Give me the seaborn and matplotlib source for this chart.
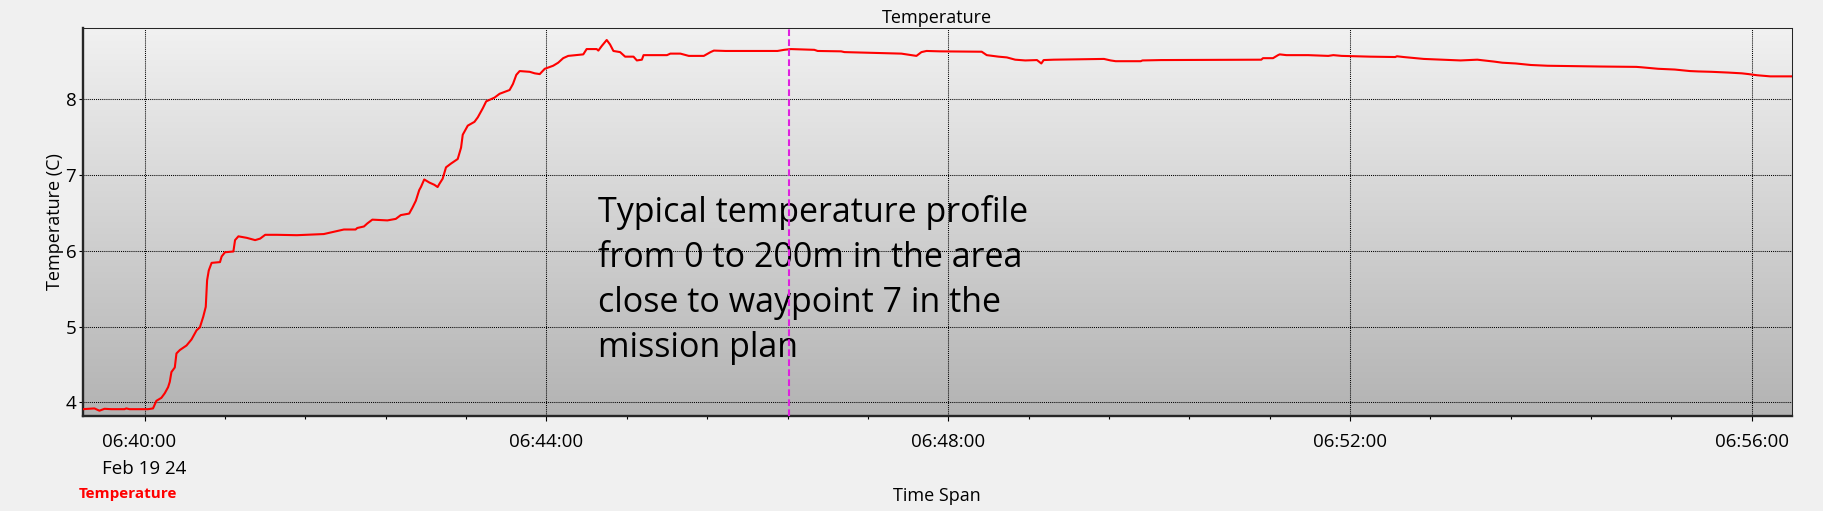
import numpy as np
import pandas as pd
import matplotlib
matplotlib.use("Agg")
import matplotlib.pyplot as plt
import matplotlib.dates as mdates
from matplotlib.colors import LinearSegmentedColormap
import seaborn as sns

# seconds after 06:40:00 and temperature (C)
start = pd.Timestamp("2024-02-19 06:40:00")
seconds = [-37, -30, -27, -24, -20, -12, -11, -9, 2, 5, 7, 10, 12, 14, 15, 16, 18, 19,
           21, 25, 28, 31, 33, 35, 36.5, 37.3, 38.3, 40, 45, 46, 48, 53, 54, 56, 61, 66,
           69, 72, 79, 91, 107, 115, 119, 126, 127, 131, 133, 136, 145, 150, 153, 158,
           160, 162, 164, 165, 167, 170, 173, 175, 176, 178, 180, 183, 187, 189, 190,
           193, 197, 199, 202, 204, 209, 212, 218, 220, 222, 224, 230, 233, 236, 239,
           244, 247, 250, 253, 262, 264, 270, 271, 273, 276, 278, 280, 284, 287, 292,
           294, 297, 298, 312, 314, 320, 325, 334, 338, 340, 347, 378, 382, 386, 400,
           402, 416, 418, 436, 452, 461, 464, 467, 475, 500, 503, 510, 515, 520, 526,
           533, 535.6, 537, 543, 573, 577, 580, 595, 596, 607, 667, 668, 674, 677, 678,
           682, 695, 707, 710, 715, 732, 747, 748, 752, 764, 775, 786, 796, 800, 806,
           811, 819, 828, 838, 869, 891, 894, 899, 904, 914, 923, 928, 936, 946, 954,
           958, 963, 971, 984]
temperature = [3.91, 3.92, 3.89, 3.915, 3.91, 3.91, 3.92, 3.91, 3.91, 3.92, 4.02, 4.06,
               4.12, 4.20, 4.27, 4.40, 4.46, 4.645, 4.69, 4.75, 4.83, 4.95, 4.99, 5.13,
               5.26, 5.61, 5.74, 5.84, 5.85, 5.925, 5.98, 5.99, 6.14, 6.19, 6.17, 6.14,
               6.16, 6.21, 6.21, 6.205, 6.22, 6.26, 6.28, 6.28, 6.30, 6.32, 6.36, 6.41,
               6.40, 6.42, 6.47, 6.49, 6.57, 6.66, 6.80, 6.84, 6.94, 6.90, 6.87, 6.84,
               6.88, 6.95, 7.10, 7.15, 7.21, 7.36, 7.53, 7.65, 7.70, 7.76, 7.88, 7.97,
               8.02, 8.07, 8.12, 8.20, 8.32, 8.37, 8.36, 8.34, 8.33, 8.40, 8.44, 8.48,
               8.54, 8.57, 8.59, 8.66, 8.66, 8.64, 8.70, 8.78, 8.72, 8.635, 8.62, 8.56,
               8.56, 8.51, 8.52, 8.58, 8.58, 8.60, 8.60, 8.57, 8.57, 8.62, 8.64, 8.635,
               8.635, 8.65, 8.66, 8.65, 8.635, 8.63, 8.62, 8.61, 8.60, 8.57, 8.62, 8.635,
               8.63, 8.625, 8.58, 8.56, 8.55, 8.52, 8.51, 8.515, 8.47, 8.515, 8.52, 8.53,
               8.51, 8.50, 8.50, 8.51, 8.515, 8.52, 8.54, 8.54, 8.58, 8.59, 8.58, 8.58,
               8.57, 8.58, 8.57, 8.56, 8.555, 8.565, 8.555, 8.53, 8.52, 8.51, 8.52, 8.51,
               8.495, 8.48, 8.47, 8.45, 8.44, 8.43, 8.425, 8.42, 8.41, 8.40, 8.39, 8.37,
               8.365, 8.36, 8.35, 8.34, 8.33, 8.315, 8.30, 8.30]

marker_time = pd.Timestamp("2024-02-19 06:46:25")
x_start = pd.Timestamp("2024-02-19 06:39:23")
x_end = pd.Timestamp("2024-02-19 06:56:24")
y_lim = (3.824, 8.934)
y_ticks = [4, 5, 6, 7, 8]
note = "Typical temperature profile\nfrom 0 to 200m in the area\nclose to waypoint 7 in the\nmission plan"

df = pd.DataFrame({"time": start + pd.to_timedelta(seconds, unit="s"),
                   "temp": temperature})

sns.set_style("ticks")
plt.rcParams["font.family"] = ["Open Sans", "DejaVu Sans"]
plt.rcParams["text.color"] = "black"
plt.rcParams["xtick.color"] = "black"
plt.rcParams["ytick.color"] = "black"
plt.rcParams["axes.labelcolor"] = "black"

fig = plt.figure(figsize=(18.23, 5.11), dpi=100, facecolor="#f0f0f0")
rect = [0.04537, 0.1865, 0.93763, 0.75812]

# gradient panel behind the chart
bg = fig.add_axes(rect, zorder=0)
cmap = LinearSegmentedColormap.from_list("panel", ["#f1f1f1", "#b3b3b3"])
bg.imshow(np.linspace(0, 1, 256)[:, None], cmap=cmap, aspect="auto", extent=[0, 1, 0, 1])
bg.axis("off")

ax = fig.add_axes(rect, zorder=1)
ax.set_facecolor("none")
sns.lineplot(data=df, x="time", y="temp", color="red", linewidth=1.5, ax=ax, zorder=3)
ax.axvline(marker_time, color="#e020e0", linewidth=1.5, dashes=(3.2, 1.6), zorder=4)

major = pd.date_range("2024-02-19 06:40", "2024-02-19 06:56", freq="4min")
minor = pd.date_range("2024-02-19 06:40:48", "2024-02-19 06:55:12", freq="48s")
labels = [t.strftime("%H:%M:%S") for t in major]
labels[0] = labels[0] + "\nFeb 19 24"
ax.set_xticks(mdates.date2num(major), labels=labels)
ax.set_xticks(mdates.date2num(minor), minor=True)
ax.get_xticklabels()[0].set_multialignment("left")
ax.get_xticklabels()[0].set_linespacing(1.6)
ax.set_yticks(y_ticks)

ax.set_xlim(x_start, x_end)
ax.set_ylim(*y_lim)

ax.grid(True, which="major", color="black", linestyle=(0, (1, 1)), linewidth=0.75)
ax.tick_params(axis="x", which="major", length=3.6, width=0.8, pad=9, labelsize=13.5)
ax.tick_params(axis="x", which="minor", length=2, width=0.8)
ax.tick_params(axis="y", which="major", length=3.1, width=0.8, pad=1.5, labelsize=13.5)

for side in ["left", "bottom"]:
    ax.spines[side].set_linewidth(1.7)
for side in ["top", "right"]:
    ax.spines[side].set_visible(True)
    ax.spines[side].set_linewidth(0.75)

ax.set_title("Temperature", fontsize=13, pad=3.8)
ax.set_ylabel("Temperature (C)", fontsize=13)
ax.yaxis.set_label_coords(-0.0108, 0.5)
ax.set_xlabel("Time Span", fontsize=13)
ax.xaxis.label.set_va("baseline")
ax.xaxis.set_label_coords(0.5, -0.2202)

# note sits under the marker line, as in the original
ax.text(0.3016, 0.57, note, transform=ax.transAxes, fontsize=24.5, va="top",
        ha="left", linespacing=1.43, color="black", zorder=2)

fig.text(0.0434, 0.0249, "Temperature", color="red", fontsize=11,
         fontweight="bold", va="baseline")

fig.savefig("out.png", dpi=100, facecolor=fig.get_facecolor())
